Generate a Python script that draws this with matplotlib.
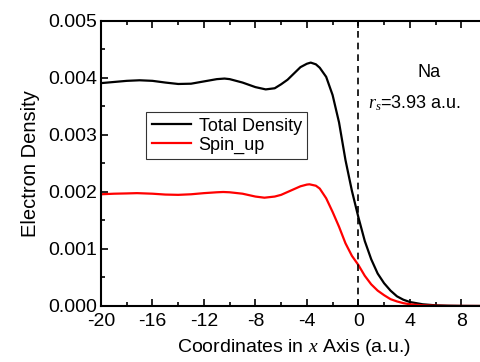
import matplotlib
matplotlib.use("Agg")
import matplotlib.pyplot as plt
from matplotlib.ticker import MultipleLocator

plt.rcParams['font.family'] = ['Liberation Sans', 'DejaVu Sans']
plt.rcParams['mathtext.fontset'] = 'custom'
plt.rcParams['mathtext.it'] = 'Liberation Serif:italic'
plt.rcParams['mathtext.rm'] = 'Liberation Sans'
plt.rcParams['axes.unicode_minus'] = False

# readings (density in units of 1e-3)
x_total = [-20, -19, -18, -17, -16, -15, -14, -13, -12, -11, -10.4, -10, -9, -8,
           -7.2, -6.5, -6, -5.5, -5, -4.5, -4, -3.7, -3.3, -3, -2.5, -2, -1.5,
           -1, -0.5, 0, 0.5, 1, 1.5, 2, 2.5, 3, 3.5, 4, 5, 6, 7, 8, 9, 10]
total = [3.91, 3.93, 3.95, 3.96, 3.95, 3.92, 3.895, 3.90, 3.94, 3.98, 3.99, 3.98,
         3.92, 3.84, 3.80, 3.82, 3.89, 3.97, 4.08, 4.19, 4.25, 4.27, 4.24, 4.18,
         4.02, 3.70, 3.22, 2.56, 2.02, 1.56, 1.14, 0.82, 0.57, 0.40, 0.27, 0.17,
         0.11, 0.07, 0.03, 0.012, 0.005, 0.002, 0.001, 0.0]

x_up = [-20, -19, -18, -17.2, -16, -15, -14, -13, -12, -11, -10.5, -10, -9, -8,
        -7.3, -6.5, -6, -5.5, -5, -4.5, -4, -3.8, -3.3, -3, -2.5, -2, -1.5, -1,
        -0.5, 0, 0.5, 1, 1.5, 2, 2.5, 3, 3.5, 4, 5, 6, 7, 8, 9, 10]
spin_up = [1.96, 1.97, 1.975, 1.98, 1.97, 1.955, 1.95, 1.96, 1.98, 1.995, 2.00,
           1.995, 1.97, 1.92, 1.90, 1.92, 1.95, 2.00, 2.05, 2.10, 2.13, 2.135,
           2.11, 2.06, 1.89, 1.65, 1.39, 1.10, 0.88, 0.72, 0.53, 0.38, 0.27,
           0.19, 0.12, 0.08, 0.05, 0.03, 0.012, 0.005, 0.002, 0.001, 0.0005, 0.0]

total = [v * 1e-3 for v in total]
spin_up = [v * 1e-3 for v in spin_up]

fig = plt.figure(figsize=(4.81, 3.62), dpi=100)
ax = fig.add_axes([0.21, 0.1547, 0.8025, 0.7873])

ax.plot(x_total, total, color='black', lw=1.6, label='Total Density')
ax.plot(x_up, spin_up, color='red', lw=1.6, label='Spin_up')
ax.axvline(0, color='black', ls=(0, (4, 3)), lw=1.2)

ax.set_xlim(-20, 10)
ax.set_ylim(0, 0.005)
ax.xaxis.set_major_locator(MultipleLocator(4))
ax.xaxis.set_minor_locator(MultipleLocator(2))
ax.yaxis.set_major_locator(MultipleLocator(0.001))
ax.yaxis.set_minor_locator(MultipleLocator(0.0005))
ax.yaxis.set_major_formatter(plt.FormatStrFormatter('%.3f'))

ax.tick_params(which='both', direction='in', top=True, right=True,
               labelsize=14, width=1.2)
ax.tick_params(which='major', length=5, pad=3)
ax.tick_params(which='minor', length=3)
ax.tick_params(axis='x', which='major', pad=5)
for s in ax.spines.values():
    s.set_linewidth(1.5)

ax.set_xlabel('Coordinates in $x$ Axis (a.u.)', fontsize=14, labelpad=5)
ax.set_ylabel('Electron Density', fontsize=14.5, labelpad=6)

ax.text(5.5, 0.00409, 'Na', fontsize=13, ha='center', va='center')
ax.text(4.4, 0.00356, r'$r_s$=3.93 a.u.', fontsize=13, ha='center', va='center')

leg = ax.legend(loc='upper left', bbox_to_anchor=(0.117, 0.68), fontsize=13,
                frameon=True, fancybox=False, edgecolor='black',
                handlelength=2.2, borderpad=0.3, labelspacing=0.1,
                handletextpad=0.4, borderaxespad=0)
leg.get_frame().set_linewidth(0.8)

fig.savefig('out.png', dpi=100)
